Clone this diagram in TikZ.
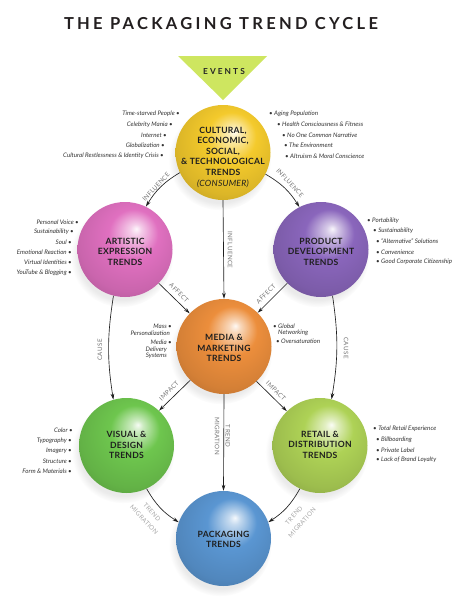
\documentclass[tikz,border=0pt]{standalone}
\usepackage{fontspec}
\setmainfont{Lato}
\usetikzlibrary{arrows.meta,shadows,fadings}

\definecolor{cYel}{RGB}{244,202,44}
\definecolor{cPink}{RGB}{224,112,192}
\definecolor{cPurp}{RGB}{138,102,188}
\definecolor{cOrg}{RGB}{236,142,60}
\definecolor{cGrn}{RGB}{110,198,78}
\definecolor{cLime}{RGB}{174,210,86}
\definecolor{cBlue}{RGB}{90,150,210}
\definecolor{cEvt}{RGB}{206,230,96}
\definecolor{cTitle}{RGB}{35,31,32}
\colorlet{sphc}{cYel}

\pgfdeclareradialshading[sphc]{myball}{\pgfpoint{6bp}{11bp}}{%
  color(0bp)=(sphc!6!white);
  color(3bp)=(sphc!35!white);
  color(13bp)=(sphc);
  color(27bp)=(sphc!90!black);
  color(37bp)=(sphc!76!black);
  color(50bp)=(sphc!76!black)}

\tikzset{
  sphcol/.code={\colorlet{sphc}{#1}},
  sphere/.style={circle, inner sep=0pt, minimum size=95pt, shading=myball,
    circular drop shadow={shadow xshift=-3pt, shadow yshift=-6pt, shadow scale=1.08, opacity=.16}},
  spheretext/.style={inner sep=0pt, align=center, text=black!88,
    font=\bfseries\fontsize{8.6}{10.6}\selectfont\addfontfeatures{LetterSpace=3}},
  listtext/.style={inner sep=0pt, text=black!80, font=\itshape\fontsize{6.2}{7.2}\selectfont},
  arr/.style={-{Stealth[length=6pt,width=3.6pt]}, line width=0.65pt, black!88},
  albl/.style={inner sep=0pt, align=center, text=black!55,
    font=\fontsize{6.2}{10.8}\selectfont\addfontfeatures{LetterSpace=6}},
  albllight/.style={albl, text=black!35},
}

\begin{document}
\begin{tikzpicture}[x=1pt,y=-1pt]
\useasboundingbox (0,0) rectangle (469,611);
\fill[white] (0,0) rectangle (469,611);

% title
\node[inner sep=0pt, text=cTitle, font=\bfseries\fontsize{16.5}{18}\selectfont\addfontfeatures{LetterSpace=20}] (title) at (221,24) {THE PACKAGING TREND CYCLE};

% events triangle
\fill[cEvt] (178,56) -- (267,56) -- (223,100) -- cycle;
\node[inner sep=0pt, text=black!85, font=\bfseries\fontsize{8.3}{9}\selectfont\addfontfeatures{LetterSpace=25}] (events) at (224,71) {EVENTS};

% spheres
\node[sphere, sphcol=cYel] (cult) at (223,152.5) {};
\node[sphere, sphcol=cPink] (art) at (125,249.5) {};
\node[sphere, sphcol=cPurp] (prod) at (321,249.5) {};
\node[sphere, sphcol=cOrg] (media) at (224,346.5) {};
\node[sphere, sphcol=cGrn] (vis) at (126.5,445.5) {};
\node[sphere, sphcol=cLime] (ret) at (320,445.5) {};
\node[sphere, sphcol=cBlue] (pack) at (223.5,538.5) {};

% sphere texts
\node[spheretext] (cultT) at (223,157) {CULTURAL,\\ECONOMIC,\\SOCIAL,\\\& TECHNOLOGICAL\\TRENDS\\{\mdseries\itshape (CONSUMER)}};
\node[spheretext] (artT) at (125,251.5) {ARTISTIC\\EXPRESSION\\TRENDS};
\node[spheretext] (prodT) at (321,251.5) {PRODUCT\\DEVELOPMENT\\TRENDS};
\node[spheretext] (mediaT) at (224,348) {MEDIA \&\\MARKETING\\TRENDS};
\node[spheretext] (visT) at (126.5,445) {VISUAL \&\\DESIGN\\TRENDS};
\node[spheretext] (retT) at (320,444.5) {RETAIL \&\\DISTRIBUTION\\TRENDS};
\node[spheretext] (packT) at (223.5,539.5) {PACKAGING\\TRENDS};

% arrows
\draw[arr] (cult.205) to[bend right=14] (art.64);
\draw[arr] (cult.333) to[bend left=14] (prod.117);
\draw[arr] (cult.south) -- (media.north);
\draw[arr] (art.315) -- (media.136);
\draw[arr] (prod.225) -- (media.45);
\draw[arr] (art.256) to[bend right=9] (vis.106);
\draw[arr] (prod.284) to[bend left=9] (ret.76);
\draw[arr] (media.225) -- (vis.47);
\draw[arr] (media.313) -- (ret.134);
\draw[arr] (media.south) -- (pack.north);
\draw[arr] (vis.295) to[bend right=14] (pack.160);
\draw[arr] (ret.245) to[bend left=14] (pack.20);

% arrow labels
\node[albl, rotate=47] (l1) at (156,187) {INFLUENCE};
\node[albl, rotate=-47] (l2) at (290,183) {INFLUENCE};
\node[albl, rotate=-90] (l3) at (230,250) {INFLUENCE};
\node[albl, rotate=-45] (l4) at (179,293) {AFFECT};
\node[albl, rotate=45] (l5) at (266,294) {AFFECT};
\node[albl, rotate=90] (l6) at (100,350) {CAUSE};
\node[albl, rotate=-90] (l7) at (346,348) {CAUSE};
\node[albl, rotate=45] (l8) at (169,391) {IMPACT};
\node[albl, rotate=-45] (l9) at (276,391) {IMPACT};
\node[albl, rotate=-90] (l10) at (222.5,436) {TREND\\MIGRATION};
\node[albllight, rotate=-47] (l11) at (148,516) {TREND\\MIGRATION};
\node[albllight, rotate=48] (l12) at (298,519) {TREND\\MIGRATION};

% lists
\foreach \t/\x/\y [count=\i] in {Time-starved People/180/114, Celebrity Mania/173/124.5, Internet/167/135, Globalization/165/145.5, Cultural Restlessness \& Identity Crisis/164/156}
  \node[listtext, anchor=east] (a\i) at (\x,\y) {\t\ •};
\foreach \t/\x/\y [count=\i] in {Aging Population/269/114, Health Consciousness \& Fitness/277/124.5, No One Common Narrative/282/135, The Environment/284/145.5, Altruism \& Moral Conscience/285/156}
  \node[listtext, anchor=west] (b\i) at (\x,\y) {•\ \t};
\foreach \t/\x/\y [count=\i] in {Personal Voice/79/222, Sustainability/74/232, Soul/72/242, Emotional Reaction/72/252.5, Virtual Identities/72/262.5, YouTube \& Blogging/72/273}
  \node[listtext, anchor=east] (c\i) at (\x,\y) {\t\ •};
\foreach \t/\x/\y [count=\i] in {Portability/367/221, Sustainability/373/231, “Alternative” Solutions/376/241.5, Convenience/376/252, Good Corporate Citizenship/376/262}
  \node[listtext, anchor=west] (d\i) at (\x,\y) {•\ \t};
\node[listtext, anchor=east] (e1) at (172,326) {Mass •};
\node[listtext, anchor=east] (e2) at (170,333) {Personalization};
\node[listtext, anchor=east] (e3) at (172,342.5) {Media •};
\node[listtext, anchor=east] (e4) at (167,349.5) {Delivery};
\node[listtext, anchor=east] (e5) at (167,356) {Systems};
\node[listtext, anchor=west] (f1) at (273,326) {• Global};
\node[listtext, anchor=west] (f2) at (278,333) {Networking};
\node[listtext, anchor=west] (f3) at (276,341.5) {• Oversaturation};
\foreach \t/\x/\y [count=\i] in {Color/73/430, Typography/72/440.5, Imagery/72/451, Structure/72/461, Form \& Materials/72/471.5}
  \node[listtext, anchor=east] (g\i) at (\x,\y) {\t\ •};
\foreach \t/\x/\y [count=\i] in {Total Retail Experience/373/429, Billboarding/376/439.5, Private Label/376/450, Lack of Brand Loyalty/376/460}
  \node[listtext, anchor=west] (h\i) at (\x,\y) {•\ \t};
\end{tikzpicture}
\end{document}
